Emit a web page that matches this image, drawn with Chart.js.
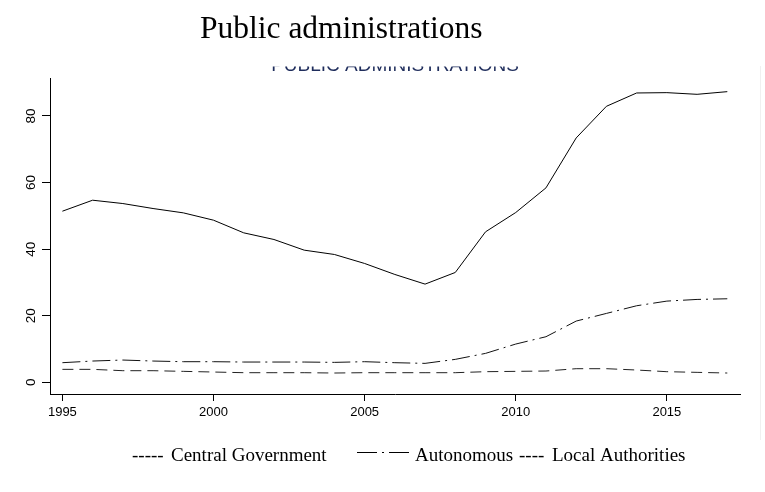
<!DOCTYPE html>
<html>
<head>
<meta charset="utf-8">
<script src="https://cdn.jsdelivr.net/npm/chart.js@4/dist/chart.umd.min.js"></script>
<style>
html,body{margin:0;padding:0;background:#fff;}
#wrap{width:765px;height:492px;position:relative;}
</style>
</head>
<body>
<div id="wrap"><canvas id="c" width="765" height="492"></canvas></div>
<script>
const years = [1995,1996,1997,1998,1999,2000,2001,2002,2003,2004,2005,2006,2007,2008,2009,2010,2011,2012,2013,2014,2015,2016,2017];
const publicAdmin = [51.4,54.7,53.7,52.2,50.9,48.7,44.9,42.9,39.7,38.4,35.7,32.4,29.5,33.0,45.2,51.0,58.4,73.4,82.9,86.9,87.0,86.5,87.3];
const autonomous = [5.9,6.4,6.7,6.4,6.2,6.2,6.1,6.1,6.1,6.0,6.2,5.9,5.7,6.9,8.7,11.5,13.7,18.4,20.7,23.0,24.4,24.9,25.1];
const localAuthorities = [3.9,3.9,3.5,3.5,3.3,3.1,2.9,2.9,2.9,2.8,2.9,2.9,2.9,2.9,3.2,3.3,3.4,4.1,4.1,3.7,3.2,3.0,2.8];
const xTickValues = [1995,2000,2005,2010,2015];
const yTickValues = [0,20,40,60,80];
const titleText = "Public administrations";
const innerTitleText = "PUBLIC ADMINISTRATIONS";
const legendCentral = ["-----", "Central Government"];
const legendAutonomous = "Autonomous";
const legendLocal = ["----", "Local Authorities"];

const toPts = arr => arr.map((v,i)=>({x:years[i], y:v}));

const decor = {
  id:'decor',
  afterDraw(chart){
    const ctx = chart.ctx;
    const ys = chart.scales.y;
    ctx.save();
    // title
    ctx.fillStyle = '#000';
    ctx.font = '31.5px "Liberation Serif", "Times New Roman", serif';
    ctx.textAlign = 'left';
    ctx.textBaseline = 'alphabetic';
    ctx.fillText(titleText, 200, 38);
    // clipped inner title
    ctx.save();
    ctx.beginPath();
    ctx.rect(0, 66.5, 765, 10);
    ctx.clip();
    ctx.fillStyle = '#1f2d5c';
    ctx.font = '19px "Liberation Sans", Arial, sans-serif';
    ctx.textAlign = 'center';
    ctx.fillText(innerTitleText, 395, 71);
    ctx.restore();
    // y tick labels rotated
    ctx.fillStyle = '#000';
    ctx.font = '13.5px "Liberation Sans", Arial, sans-serif';
    yTickValues.forEach(v=>{
      const py = ys.getPixelForValue(v);
      ctx.save();
      ctx.translate(35, py);
      ctx.rotate(-Math.PI/2);
      ctx.textAlign = 'center';
      ctx.textBaseline = 'alphabetic';
      ctx.fillText(String(v), 0, 0);
      ctx.restore();
    });
    // legend
    ctx.font = '19px "Liberation Serif", "Times New Roman", serif';
    ctx.textBaseline = 'alphabetic';
    const by = 461;
    ctx.textAlign = 'left';
    ctx.fillText(legendCentral[0], 132, by);
    ctx.fillText(legendCentral[1], 171, by);
    ctx.fillText(legendAutonomous, 415, by);
    ctx.fillText(legendLocal[0], 519, by);
    ctx.fillText(legendLocal[1], 552, by);
    ctx.strokeStyle = '#000';
    ctx.lineWidth = 1;
    ctx.setLineDash([20,5,2,5]);
    ctx.beginPath();
    ctx.moveTo(357, by-8.5);
    ctx.lineTo(411, by-8.5);
    ctx.stroke();
    ctx.setLineDash([]);
    // faint right border
    ctx.strokeStyle = '#f0f0f0';
    ctx.beginPath();
    ctx.moveTo(760.5, 66);
    ctx.lineTo(760.5, 440);
    ctx.stroke();
    ctx.restore();
  }
};

new Chart(document.getElementById('c'), {
  type:'line',
  data:{
    datasets:[
      {label:'Public administrations', data:toPts(publicAdmin), borderColor:'#000', borderWidth:1, pointRadius:0, tension:0, fill:false},
      {label:'Autonomous', data:toPts(autonomous), borderColor:'#111', borderWidth:1, borderDash:[18,5,2,5], pointRadius:0, tension:0, fill:false},
      {label:'Local Authorities', data:toPts(localAuthorities), borderColor:'#222', borderWidth:1, borderDash:[11,6], pointRadius:0, tension:0, fill:false}
    ]
  },
  options:{
    responsive:false,
    animation:false,
    events:[],
    layout:{padding:{top:78, right:25, left:0, bottom:0}},
    plugins:{legend:{display:false}, title:{display:false}, tooltip:{enabled:false}},
    scales:{
      x:{
        type:'linear', min:1994.59, max:2017.42,
        afterBuildTicks(s){ s.ticks = xTickValues.map(v=>({value:v})); },
        afterFit(s){ s.height = 98; },
        grid:{drawOnChartArea:false, drawTicks:true, tickLength:7, color:'#000', lineWidth:1},
        border:{display:true, color:'#000', width:1},
        ticks:{color:'#000', font:{family:'"Liberation Sans", Arial, sans-serif', size:13}, padding:4, maxRotation:0, autoSkip:false,
          callback:v=>String(v)}
      },
      y:{
        type:'linear', min:-3.5, max:91.4,
        afterBuildTicks(s){ s.ticks = yTickValues.map(v=>({value:v})); },
        afterFit(s){ s.width = 50; },
        grid:{drawOnChartArea:false, drawTicks:true, tickLength:8, color:'#000', lineWidth:1},
        border:{display:true, color:'#000', width:1},
        ticks:{display:false}
      }
    }
  },
  plugins:[decor]
});
</script>
</body>
</html>
